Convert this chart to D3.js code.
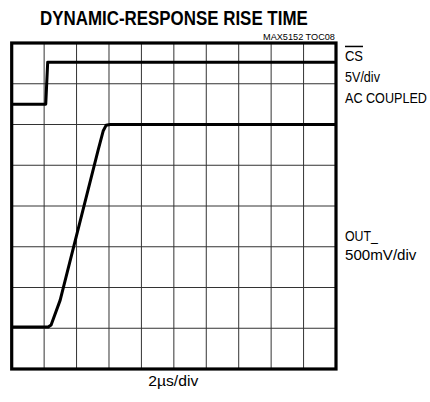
<!DOCTYPE html>
<html>
<head>
<meta charset="utf-8">
<script src="https://cdn.jsdelivr.net/npm/d3@7"></script>
<style>
  body { margin: 0; background: #fff; }
  text { font-family: "Liberation Sans", Arial, sans-serif; fill: #000; }
</style>
</head>
<body>
<div id="chart"></div>
<script>
// 1: DATA (time in us, level in screen divisions from the bottom)
const timeDivs = d3.range(0, 21, 2);        // 2us/div, 10 divisions
const levelDivs = d3.range(0, 9, 1);        // 8 vertical divisions

const csTime  = [0, 2.1, 2.22, 20];
const csLevel = [6.5, 6.5, 7.53, 7.53];

const outTime  = [0, 2.25, 2.43, 2.99, 5.33, 5.64, 5.82, 6.07, 20];
const outLevel = [1.03, 1.03, 1.08, 1.69, 5.37, 5.84, 5.98, 6.0, 6.0];

const title = "DYNAMIC-RESPONSE RISE TIME";
const tocLabel = "MAX5152 TOC08";
const csLabels = ["CS", "5V/div", "AC COUPLED"];
const outLabels = ["OUT_", "500mV/div"];
const xLabel = "2\u00b5s/div";

// 2: SVG
const W = 430, H = 402;
const svg = d3.select("#chart").append("svg")
    .attr("width", W)
    .attr("height", H);

const x = d3.scaleLinear().domain([0, 20]).range([11.7, 336]);
const y = d3.scaleLinear().domain([0, 8]).range([369, 43]);

// narrow look: squeeze a label horizontally to the width
function narrow(sel, w) {
    const n = sel.node().getComputedTextLength();
    const x0 = +sel.attr("x"), y0 = +sel.attr("y");
    sel.attr("x", 0).attr("y", 0)
        .attr("transform", `translate(${x0},${y0}) scale(${w / n},1)`);
}

// 3: GRID
svg.append("g").selectAll("line")
    .data(timeDivs.slice(1, -1))
    .enter().append("line")
    .attr("x1", d => x(d)).attr("x2", d => x(d))
    .attr("y1", y(0)).attr("y2", y(8))
    .attr("stroke", "#333").attr("stroke-width", 1);

svg.append("g").selectAll("line")
    .data(levelDivs.slice(1, -1))
    .enter().append("line")
    .attr("y1", d => y(d)).attr("y2", d => y(d))
    .attr("x1", x(0)).attr("x2", x(20))
    .attr("stroke", "#333").attr("stroke-width", 1);

// frame
svg.append("rect")
    .attr("x", x(0)).attr("y", y(8))
    .attr("width", x(20) - x(0)).attr("height", y(0) - y(8))
    .attr("fill", "none").attr("stroke", "#000").attr("stroke-width", 3.2);

// 4: TRACES
const line = d3.line()
    .x(d => x(d[0]))
    .y(d => y(d[1]));

const traces = [
    d3.zip(csTime, csLevel),
    d3.zip(outTime, outLevel)
];

svg.selectAll(".trace")
    .data(traces)
    .enter().append("path")
    .attr("class", "trace")
    .attr("d", line)
    .attr("fill", "none")
    .attr("stroke", "#000")
    .attr("stroke-width", 3)
    .attr("stroke-linejoin", "round");

// 5: TEXT
svg.append("text")
    .text(title)
    .attr("x", 40)
    .attr("y", 25)
    .style("font-size", "20.5px")
    .style("font-weight", "bold")
    .call(narrow, 268);

svg.append("text")
    .text(tocLabel)
    .attr("x", 263)
    .attr("y", 40)
    .style("font-size", "9px")
    .call(narrow, 72);

const csWidths = [18, 35, 82];
svg.append("g").selectAll("text")
    .data(csLabels)
    .enter().append("text")
    .text(d => d)
    .attr("x", 345)
    .attr("y", (d, i) => 60.7 + i * 21)
    .style("font-size", "15px")
    .style("text-decoration", (d, i) => i === 0 ? "overline" : null)
    .each(function(d, i) { d3.select(this).call(narrow, csWidths[i]); });

const outWidths = [33, 71.5];
svg.append("g").selectAll("text")
    .data(outLabels)
    .enter().append("text")
    .text(d => d)
    .attr("x", 345)
    .attr("y", (d, i) => 240.7 + i * 19.5)
    .style("font-size", "15px")
    .each(function(d, i) { d3.select(this).call(narrow, outWidths[i]); });

svg.append("text")
    .text(xLabel)
    .attr("x", 148.3)
    .attr("y", 386)
    .style("font-size", "15px")
    .call(narrow, 50);
</script>
</body>
</html>
